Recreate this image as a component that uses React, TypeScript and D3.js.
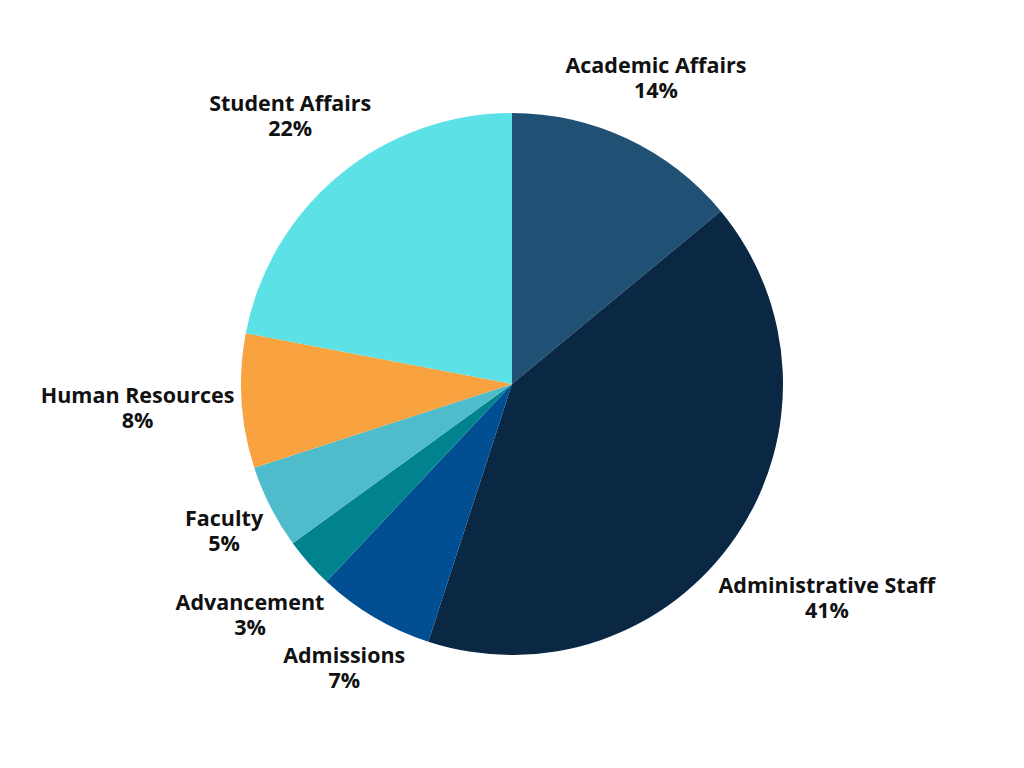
import * as d3 from "d3";

const WIDTH = 1024;
const HEIGHT = 768;
const CX = 512;
const CY = 384;
const RADIUS = 271;
const LABEL_GAP = 6;
const FONT_SIZE = 21.5;
const LINE_GAP = 25;

const departments = [
  "Academic Affairs",
  "Administrative Staff",
  "Admissions",
  "Advancement",
  "Faculty",
  "Human Resources",
  "Student Affairs",
];
const shares = [14, 41, 7, 3, 5, 8, 22];
const sliceColors = ["#215075", "#0a2744", "#014e92", "#00838f", "#4ebccb", "#f9a240", "#5ce1e6"];

type Slice = { name: string; value: number; color: string };

const slices: Slice[] = departments.map((name, i) => ({ name, value: shares[i], color: sliceColors[i] }));

// text width for Open Sans Bold, used to push each label box clear of the rim
function textWidth(text: string): number {
  const fallback = text.length * FONT_SIZE * 0.6;
  if (typeof document === "undefined") return fallback;
  const ctx = document.createElement("canvas").getContext("2d");
  if (!ctx) return fallback;
  ctx.font = `700 ${FONT_SIZE}px "Open Sans"`;
  return ctx.measureText(text).width;
}

export default function App() {
  const pie = d3.pie<Slice>().value((d) => d.value).sort(null);
  const arc = d3.arc<d3.PieArcDatum<Slice>>().innerRadius(0).outerRadius(RADIUS);
  const arcs = pie(slices);

  return (
    <svg
      width={WIDTH}
      height={HEIGHT}
      viewBox={`0 0 ${WIDTH} ${HEIGHT}`}
      style={{ position: "absolute", left: 0, top: 0, background: "#ffffff" }}
      fontFamily='"Open Sans", sans-serif'
    >
      <g transform={`translate(${CX} ${CY})`}>
        {arcs.map((d) => (
          <path key={d.data.name} d={arc(d) ?? undefined} fill={d.data.color} />
        ))}
        {arcs.map((d) => {
          const mid = (d.startAngle + d.endAngle) / 2;
          const sin = Math.sin(mid);
          const cos = Math.cos(mid);
          const halfW = Math.max(textWidth(d.data.name), textWidth(`${d.data.value}%`)) / 2;
          const halfH = LINE_GAP;
          const dist = RADIUS + LABEL_GAP + Math.abs(sin) * halfW + Math.abs(cos) * halfH;
          const x = dist * sin;
          const y = -dist * cos;
          return (
            <text key={d.data.name} textAnchor="middle" fontSize={FONT_SIZE} fontWeight="700" fill="#111111">
              <tspan x={x} y={y - LINE_GAP / 2 + 7.7}>{d.data.name}</tspan>
              <tspan x={x} y={y + LINE_GAP / 2 + 7.7}>{`${d.data.value}%`}</tspan>
            </text>
          );
        })}
      </g>
    </svg>
  );
}
